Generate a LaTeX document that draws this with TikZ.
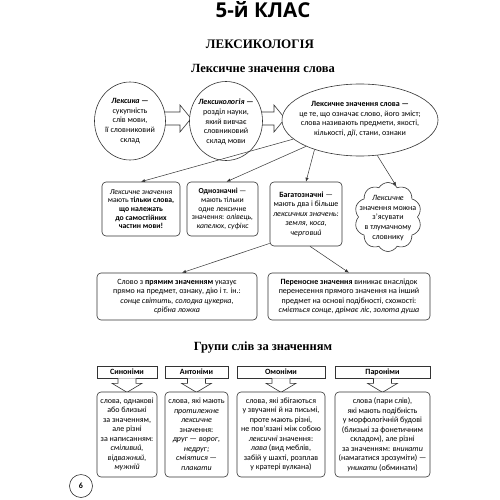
\documentclass[tikz,border=0pt]{standalone}
\usepackage{fontspec}
\setmainfont{Carlito}
\newfontfamily\titlefont{Open Sans}
\newfontfamily\headserif{Liberation Serif}
\usetikzlibrary{shapes.geometric,shapes.symbols,arrows.meta,calc}
\newcommand\dnarrow[1]{\draw[blk] ($(#1.south)+(-9,0)$) -- ++(0,5) -- ++(-6,0) -- ($(#1.south)+(0,14)$) -- ($(#1.south)+(15,5)$) -- ++(-6,0) -- ++(0,-5);}
\begin{document}
\begin{tikzpicture}[x=1pt,y=-1pt,
  ln/.style={draw=black!80, line width=0.6pt},
  txt/.style={align=center, inner sep=0pt, font=\fontsize{8}{9.6}\selectfont},
  rbox/.style={ln, rounded corners=4pt, fill=white, align=center, inner sep=0pt, font=\fontsize{8}{9.5}\selectfont},
  oval/.style={ln, ellipse, fill=white, inner sep=0pt},
  conn/.style={draw=black!80, line width=0.5pt, -{Latex[length=4pt,width=3.2pt]}},
  blk/.style={ln, fill=white, line join=miter},
  hdr/.style={ln, fill=white, inner sep=0pt, minimum height=12, font=\fontsize{8}{9.5}\selectfont\bfseries},
  bbox/.style={rbox, minimum height=85},
]
\useasboundingbox[fill=white] (0,0) rectangle (500,500);

% titles
\node[font=\titlefont\bfseries\fontsize{20.5}{24}\selectfont] (t1) at (263,10) {5-й КЛАС};
\node[font=\headserif\bfseries\fontsize{13}{15}\selectfont] (t2) at (260,44) {ЛЕКСИКОЛОГІЯ};
\node[font=\headserif\bfseries\fontsize{12.5}{15}\selectfont] (t3) at (263,68) {Лексичне значення слова};

% block arrows between ovals
\draw[blk] (158,112) -- (180,112) -- (180,105) -- (191,118.5) -- (180,132) -- (180,125) -- (158,125);
\draw[blk] (255,112) -- (274,112) -- (274,105) -- (285,118.5) -- (274,132) -- (274,125) -- (255,125);

% ovals
\node[oval, minimum width=71, minimum height=78] (c1) at (130,121) {};
\node[txt] (c1t) at (130,121) {\textbf{\textit{Лексика} —}\\сукупність\\слів мови,\\її словниковий\\склад};
\node[oval, minimum width=73, minimum height=79] (c2) at (226,121) {};
\node[txt] (c2t) at (226,122) {\textbf{\textit{Лексикологія} —}\\розділ науки,\\який вивчає\\словниковий\\склад мови};
\node[oval, minimum width=156, minimum height=72] (e3) at (360,120) {};
\node[txt] (e3t) at (360,119) {\textbf{Лексичне значення слова —}\\це те, що означає слово, його зміст;\\слова називають предмети, якості,\\кількості, дії, стани, ознаки};

% row 1
\node[rbox, minimum width=78, minimum height=54, font=\fontsize{7.7}{8.7}\selectfont] (b1) at (141,209)
  {\textit{Лексичне значення}\\мають \textbf{тільки слова,}\\\textbf{що належать}\\\textbf{до самостійних}\\\textbf{частин мови!}};
\node[rbox, minimum width=71, minimum height=54, font=\fontsize{7.7}{8.7}\selectfont] (b2) at (222.5,209)
  {\textbf{Однозначні} —\\мають тільки\\одне лексичне\\значення: \textit{олівець,}\\\textit{капелюх, суфікс}};
\node[rbox, minimum width=72, minimum height=64] (b3) at (306,214)
  {\textbf{Багатозначні} —\\мають два і більше\\\textit{лексичних значень:}\\\textit{земля, коса,}\\\textit{черговий}};
\node[cloud, ln, fill=white, cloud puffs=10, cloud puff arc=120, cloud ignores aspect, minimum width=67, minimum height=69, inner sep=0pt] (cl) at (388,217) {};
\node[txt] (clt) at (388,218) {\textit{Лексичне}\\значення можна\\з’ясувати\\в тлумачному\\словнику};

\draw[conn] (e3.196) -- (b1.north);
\draw[conn] (e3.206) -- ($(b2.north)+(4,0)$);
\draw[conn] (e3.213) -- (b3.north);
\draw[conn] (e3.296) -- (cl.75);

% row 2
\node[rbox, minimum width=160, minimum height=47] (r1) at (177,296.5)
  {Слово з \textbf{прямим значенням} указує\\прямо на предмет, ознаку, дію і т. ін.:\\\textit{сонце світить, солодка цукерка,}\\\textit{срібна ложка}};
\node[rbox, minimum width=162, minimum height=47] (r2) at (349,296.5)
  {\textbf{Переносне значення} виникає внаслідок\\перенесення прямого значення на інший\\предмет на основі подібності, схожості:\\\textit{сміється сонце, дрімає ліс, золота душа}};
\draw[conn] (b3.219) -- ($(r1.north)+(5,0)$);
\draw[conn] ($(b3.south)+(4,0)$) -- (r2.north);

% groups
\node[font=\headserif\bfseries\fontsize{12.5}{15}\selectfont] (t4) at (263,348) {Групи слів за значенням};

\coordinate (hs) at (127,372);
\coordinate (ha) at (196.5,372);
\coordinate (ho) at (281,372);
\coordinate (hp) at (382.5,372);
\node[hdr, minimum width=60] (s1) at (hs) {Синоніми};
\node[hdr, minimum width=63] (a1) at (ha) {Антоніми};
\node[hdr, minimum width=88] (o1) at (ho) {Омоніми};
\node[hdr, minimum width=95] (p1) at (hp) {Пароніми};
\dnarrow{s1}
\dnarrow{a1}
\dnarrow{o1}
\dnarrow{p1}

\node[bbox, minimum width=60] (s2) at (127,434.5)
  {слова, однакові\\або близькі\\за значенням,\\але різні\\за написанням:\\\textit{сміливий,}\\\textit{відважний,}\\\textit{мужній}};
\node[bbox, minimum width=63] (a2) at (196.5,434.5)
  {слова, які мають\\\textit{протилежне}\\\textit{лексичне}\\значення:\\\textit{друг — ворог,}\\\textit{недруг;}\\\textit{сміятися —}\\\textit{плакати}};
\node[bbox, minimum width=88] (o2) at (281,434.5)
  {слова, які збігаються\\у звучанні й на письмі,\\проте мають різні,\\не пов’язані між собою\\\textit{лексичні} значення:\\\textit{лава} (вид меблів,\\забій у шахті, розплав\\у кратері вулкана)};
\node[bbox, minimum width=95] (p2) at (382.5,434.5)
  {слова (пари слів),\\які мають подібність\\у морфологічній будові\\(близькі за фонетичним\\складом), але різні\\за значенням: \textit{вникати}\\(намагатися зрозуміти) —\\\textit{уникати} (обминати)};

\node[ln, circle, minimum size=23, inner sep=0pt, font=\fontsize{8}{9}\selectfont\bfseries] (pg) at (81,486) {6};
\end{tikzpicture}
\end{document}
